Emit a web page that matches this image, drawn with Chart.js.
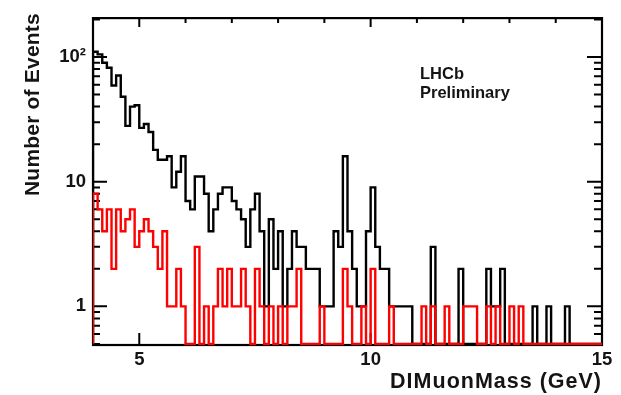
<!DOCTYPE html>
<html>
<head>
<meta charset="utf-8">
<script src="https://cdn.jsdelivr.net/npm/chart.js@4/dist/chart.umd.min.js"></script>
<style>
  html, body { margin: 0; padding: 0; background: #fff; }
  #wrap { width: 621px; height: 395px; }
</style>
</head>
<body>
<div id="wrap"><canvas id="massChart"></canvas></div>
<script>
// binning of the mass spectrum (GeV)
const MASS_MIN = 4.0;
const MASS_MAX = 15.0;
const BIN_WIDTH = 0.1;

// event counts per 0.1 GeV bin, 4.0 -> 15.0
const blackCounts = [
  110, 105, 90, 82, 59, 71, 48, 28, 40, 41,
  27, 29, 25, 18, 15, 15, 16, 9, 12, 16,
  7, 6, 11, 11, 8, 4, 6, 8, 9, 9,
  7, 6, 5, 3, 6, 8, 4, 1, 5, 2,
  4, 1, 2, 4, 3, 3, 2, 2, 2, 1,
  1, 1, 4, 3, 16, 4, 2, 1, 1, 4,
  9, 3, 2, 2, 1, 1, 1, 1, 1, 0,
  0, 0, 0, 3, 0, 0, 0, 0, 0, 2,
  0, 0, 0, 0, 0, 2, 1, 1, 2, 0,
  0, 0, 0, 0, 0, 1, 0, 0, 1, 0,
  0, 0, 1, 0, 0, 0, 0, 0, 0, 0
];
const redCounts = [
  8, 6, 4, 6, 2, 6, 4, 5, 6, 3,
  4, 5, 4, 3, 2, 4, 1, 1, 2, 1,
  0, 0, 3, 0, 1, 0, 1, 2, 1, 2,
  1, 1, 2, 1, 0, 2, 1, 0, 1, 0,
  1, 0, 1, 1, 2, 0, 0, 0, 0, 1,
  0, 0, 0, 0, 2, 1, 0, 0, 1, 0,
  2, 0, 0, 0, 1, 0, 0, 0, 0, 0,
  0, 1, 0, 1, 0, 0, 1, 0, 0, 0,
  1, 1, 1, 0, 0, 1, 0, 1, 0, 0,
  1, 0, 1, 0, 0, 0, 0, 0, 0, 0,
  0, 0, 0, 0, 0, 0, 0, 0, 0, 0
];

// axes
const Y_MIN = 0.49;
const Y_MAX = 205;
const EMPTY_LEVEL = 0.5; // empty bins sit on the floor of the log axis
const xTicks = [5, 10, 15];
const xMinorTicks = [5, 6, 7, 8, 9, 10, 11, 12, 13, 14];
const yTicks = [1, 10, 100];
const yTickLabels = ['1', '10', '10\u00b2'];
const yMinorTicks = [0.5, 0.6, 0.7, 0.8, 0.9, 2, 3, 4, 5, 6, 7, 8, 9,
                     20, 30, 40, 50, 60, 70, 80, 90, 200];
const xTitle = 'DIMuonMass (GeV)';
const yTitle = 'Number of Events';

const FONT = "'Liberation Sans', Arial, Helvetica, sans-serif";
const TEXT = '#141414';

// outline of a histogram: rise from the floor, then one step per bin
function stepPoints(counts) {
  const pts = [{ x: MASS_MIN, y: EMPTY_LEVEL }];
  counts.forEach((c, i) => {
    pts.push({ x: MASS_MIN + i * BIN_WIDTH, y: c > 0 ? c : EMPTY_LEVEL });
  });
  const last = counts[counts.length - 1];
  pts.push({ x: MASS_MAX, y: last > 0 ? last : EMPTY_LEVEL });
  return pts;
}

// frame with inward ticks on all four sides, axis titles and the LHCb label
const framePlugin = {
  id: 'frame',
  beforeDatasetsDraw(chart) {
    const { ctx, chartArea: a, scales } = chart;
    const xs = scales.x, ys = scales.y;
    ctx.save();
    ctx.strokeStyle = '#000';
    ctx.lineWidth = 2.2;
    ctx.strokeRect(a.left, a.top, a.right - a.left, a.bottom - a.top);

    ctx.lineWidth = 2;
    ctx.beginPath();
    yTicks.forEach(v => {
      const py = ys.getPixelForValue(v);
      ctx.moveTo(a.left, py); ctx.lineTo(a.left + 14, py);
      ctx.moveTo(a.right, py); ctx.lineTo(a.right - 15, py);
    });
    yMinorTicks.forEach(v => {
      const py = ys.getPixelForValue(v);
      ctx.moveTo(a.left, py); ctx.lineTo(a.left + 7, py);
      ctx.moveTo(a.right, py); ctx.lineTo(a.right - 8, py);
    });
    xMinorTicks.forEach(v => {
      const px = xs.getPixelForValue(v);
      const len = xTicks.includes(v) ? 9 : 5;
      ctx.moveTo(px, a.top); ctx.lineTo(px, a.top + len);
    });
    xTicks.forEach(v => {
      const px = xs.getPixelForValue(v);
      ctx.moveTo(px, a.bottom); ctx.lineTo(px, a.bottom - 12);
    });
    ctx.stroke();

    ctx.fillStyle = TEXT;
    ctx.textBaseline = 'alphabetic';
    ctx.font = 'bold 16.5px ' + FONT;
    ctx.fillText('LHCb', 420, 79);
    ctx.fillText('Preliminary', 420, 98);

    // axis titles, right-aligned to the frame ends
    ctx.textAlign = 'right';
    ctx.font = 'bold 21.5px ' + FONT;
    ctx.letterSpacing = '1px';
    ctx.fillText(xTitle, a.right, 388);

    ctx.font = 'bold 21px ' + FONT;
    ctx.letterSpacing = '0.2px';
    ctx.translate(38.5, a.top - 5);
    ctx.rotate(-Math.PI / 2);
    ctx.fillText(yTitle, 0, 0);
    ctx.restore();
  }
};

const histLine = {
  fill: false,
  stepped: 'before',
  borderWidth: 2.4,
  pointRadius: 0,
  tension: 0,
  borderJoinStyle: 'miter',
  borderCapStyle: 'butt'
};

const tickFont = { family: FONT, size: 18.5, weight: 'bold' };

new Chart(document.getElementById('massChart'), {
  type: 'line',
  data: {
    datasets: [
      Object.assign({ label: 'all', data: stepPoints(blackCounts), borderColor: '#000', order: 1 }, histLine),
      Object.assign({ label: 'red', data: stepPoints(redCounts), borderColor: '#ff0000', order: 0 }, histLine)
    ]
  },
  options: {
    responsive: true,
    maintainAspectRatio: false,
    devicePixelRatio: 1,
    animation: false,
    layout: { padding: { left: 0, right: 19, top: 10, bottom: 0 } },
    plugins: {
      legend: { display: false },
      tooltip: { enabled: false }
    },
    scales: {
      x: {
        type: 'linear',
        min: MASS_MIN,
        max: MASS_MAX,
        bounds: 'data',
        afterFit: s => { s.height = 50; },
        afterBuildTicks: s => { s.ticks = xTicks.map(v => ({ value: v })); },
        grid: { display: false, drawTicks: false },
        border: { display: false },
        ticks: { autoSkip: false, maxRotation: 0, padding: 4, color: TEXT, font: tickFont }
      },
      y: {
        type: 'logarithmic',
        min: Y_MIN,
        max: Y_MAX,
        bounds: 'data',
        afterFit: s => { s.width = 93; },
        afterBuildTicks: s => { s.ticks = yTicks.map(v => ({ value: v })); },
        grid: { display: false, drawTicks: false },
        border: { display: false },
        ticks: {
          autoSkip: false,
          padding: 7,
          color: TEXT,
          font: tickFont,
          callback: v => yTickLabels[yTicks.indexOf(v)]
        }
      }
    }
  },
  plugins: [framePlugin]
});
</script>
</body>
</html>
